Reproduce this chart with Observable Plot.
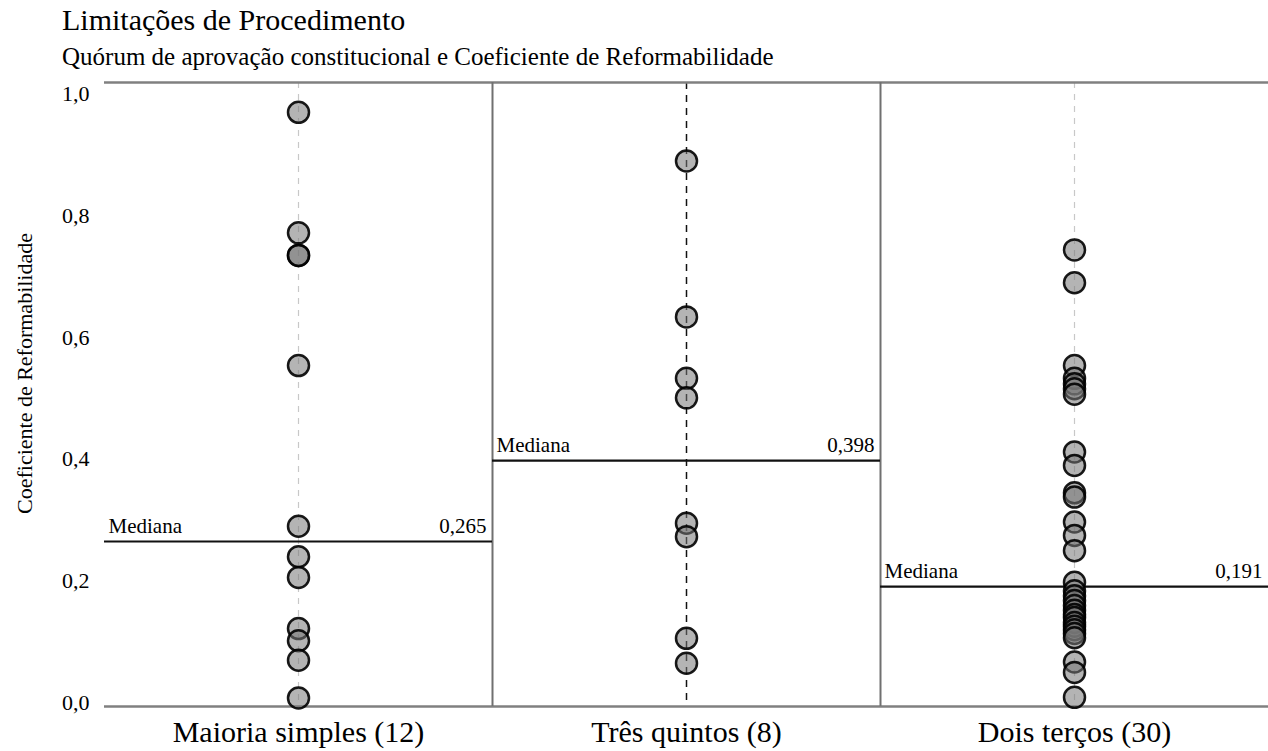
<!DOCTYPE html>
<html><head><meta charset="utf-8">
<script src="https://cdn.jsdelivr.net/npm/d3@7"></script>
<script src="https://cdn.jsdelivr.net/npm/@observablehq/plot@0.6"></script>
<style>
body{margin:0;background:#fff;width:1268px;height:751px;overflow:hidden;font-family:"Liberation Serif",serif;color:#000}
#header{position:relative;height:70px}
#title{position:absolute;left:62px;top:5px;font-size:30px;line-height:1;white-space:nowrap}
#subtitle{position:absolute;left:62px;top:44px;font-size:25px;line-height:1;white-space:nowrap}
#chart svg{display:block}
</style></head><body>
<div id="header"><div id="title">Limitações de Procedimento</div><div id="subtitle">Quórum de aprovação constitucional e Coeficiente de Reformabilidade</div></div>
<div id="chart"></div>
<script>
const categories = ["Maioria simples (12)", "Três quintos (8)", "Dois terços (30)"];
const maioriaSimples = [0.970, 0.772, 0.735, 0.735, 0.554, 0.290, 0.240, 0.206, 0.122, 0.102, 0.070, 0.008];
const tresQuintos = [0.890, 0.634, 0.533, 0.501, 0.295, 0.273, 0.106, 0.065];
const doisTercos = [0.744, 0.690, 0.554, 0.533, 0.524, 0.516, 0.507, 0.412, 0.390, 0.345, 0.338, 0.297, 0.275, 0.250, 0.198, 0.184, 0.176, 0.168, 0.160, 0.152, 0.145, 0.140, 0.132, 0.126, 0.120, 0.114, 0.107, 0.067, 0.050, 0.009];
const medians = [0.265, 0.398, 0.191];
const medianLabels = ["0,265", "0,398", "0,191"];
const yTicks = [0, 0.2, 0.4, 0.6, 0.8, 1.0];
const yDomain = [-0.006, 1.019];
const yLabel = "Coeficiente de Reformabilidade";
const highlighted = "Três quintos (8)";

const seriesList = [maioriaSimples, tresQuintos, doisTercos];
const points = seriesList.flatMap((vals, i) => vals.map(v => ({cat: categories[i], v})));
const medData = categories.map((c, i) => ({cat: c, m: medians[i], label: medianLabels[i]}));
const catData = categories.map(c => ({cat: c}));

const chart = Plot.plot({
  width: 1268, height: 681,
  marginTop: 12, marginBottom: 45, marginLeft: 103, marginRight: 0,
  style: {fontFamily: "Liberation Serif", fontSize: "20px", background: "white", color: "black"},
  fx: {domain: categories, padding: 0, label: null},
  x: {domain: [0, 1], axis: null},
  y: {domain: yDomain},
  marks: [
    Plot.ruleX(catData.filter(d => d.cat !== highlighted), {fx: "cat", x: () => 0.5, stroke: "#c8c8c8", strokeWidth: 1.2, strokeDasharray: "6,6"}),
    Plot.ruleX(catData.filter(d => d.cat === highlighted), {fx: "cat", x: () => 0.5, stroke: "#111", strokeWidth: 1.5, strokeDasharray: "7,6"}),
    Plot.ruleY(yDomain, {stroke: "#808080", strokeWidth: 2.5}),
    Plot.ruleX(catData.slice(0, 2), {fx: "cat", x: () => 1, stroke: "#707070", strokeWidth: 2}),
    Plot.ruleY(medData, {fx: "cat", y: "m", stroke: "#111", strokeWidth: 2.2}),
    Plot.text(medData, {fx: "cat", x: () => 0, y: "m", text: () => "Mediana", textAnchor: "start", lineAnchor: "middle", dx: 4, dy: -15, fontSize: 21}),
    Plot.text(medData, {fx: "cat", x: () => 1, y: "m", text: "label", textAnchor: "end", lineAnchor: "middle", dx: -6, dy: -15, fontSize: 21}),
    Plot.dot(points, {fx: "cat", x: () => 0.5, y: "v", r: 10.5, fill: "#777", fillOpacity: 0.55, stroke: "#000", strokeOpacity: 0.9, strokeWidth: 2.5}),
    Plot.axisY({ticks: yTicks, tickFormat: d => d.toFixed(1).replace(".", ","), tickSize: 0, tickPadding: 15, fontSize: 22, label: null}),
    Plot.text([{cat: categories[0]}], {fx: "cat", frameAnchor: "left", text: () => yLabel, rotate: -90, textAnchor: "middle", lineAnchor: "middle", dx: -80, dy: -21, fontSize: 22}),
    Plot.axisFx({anchor: "bottom", tickSize: 0, tickPadding: 14, fontSize: 30, label: null})
  ]
});
document.getElementById("chart").appendChild(chart);
</script>
</body></html>
